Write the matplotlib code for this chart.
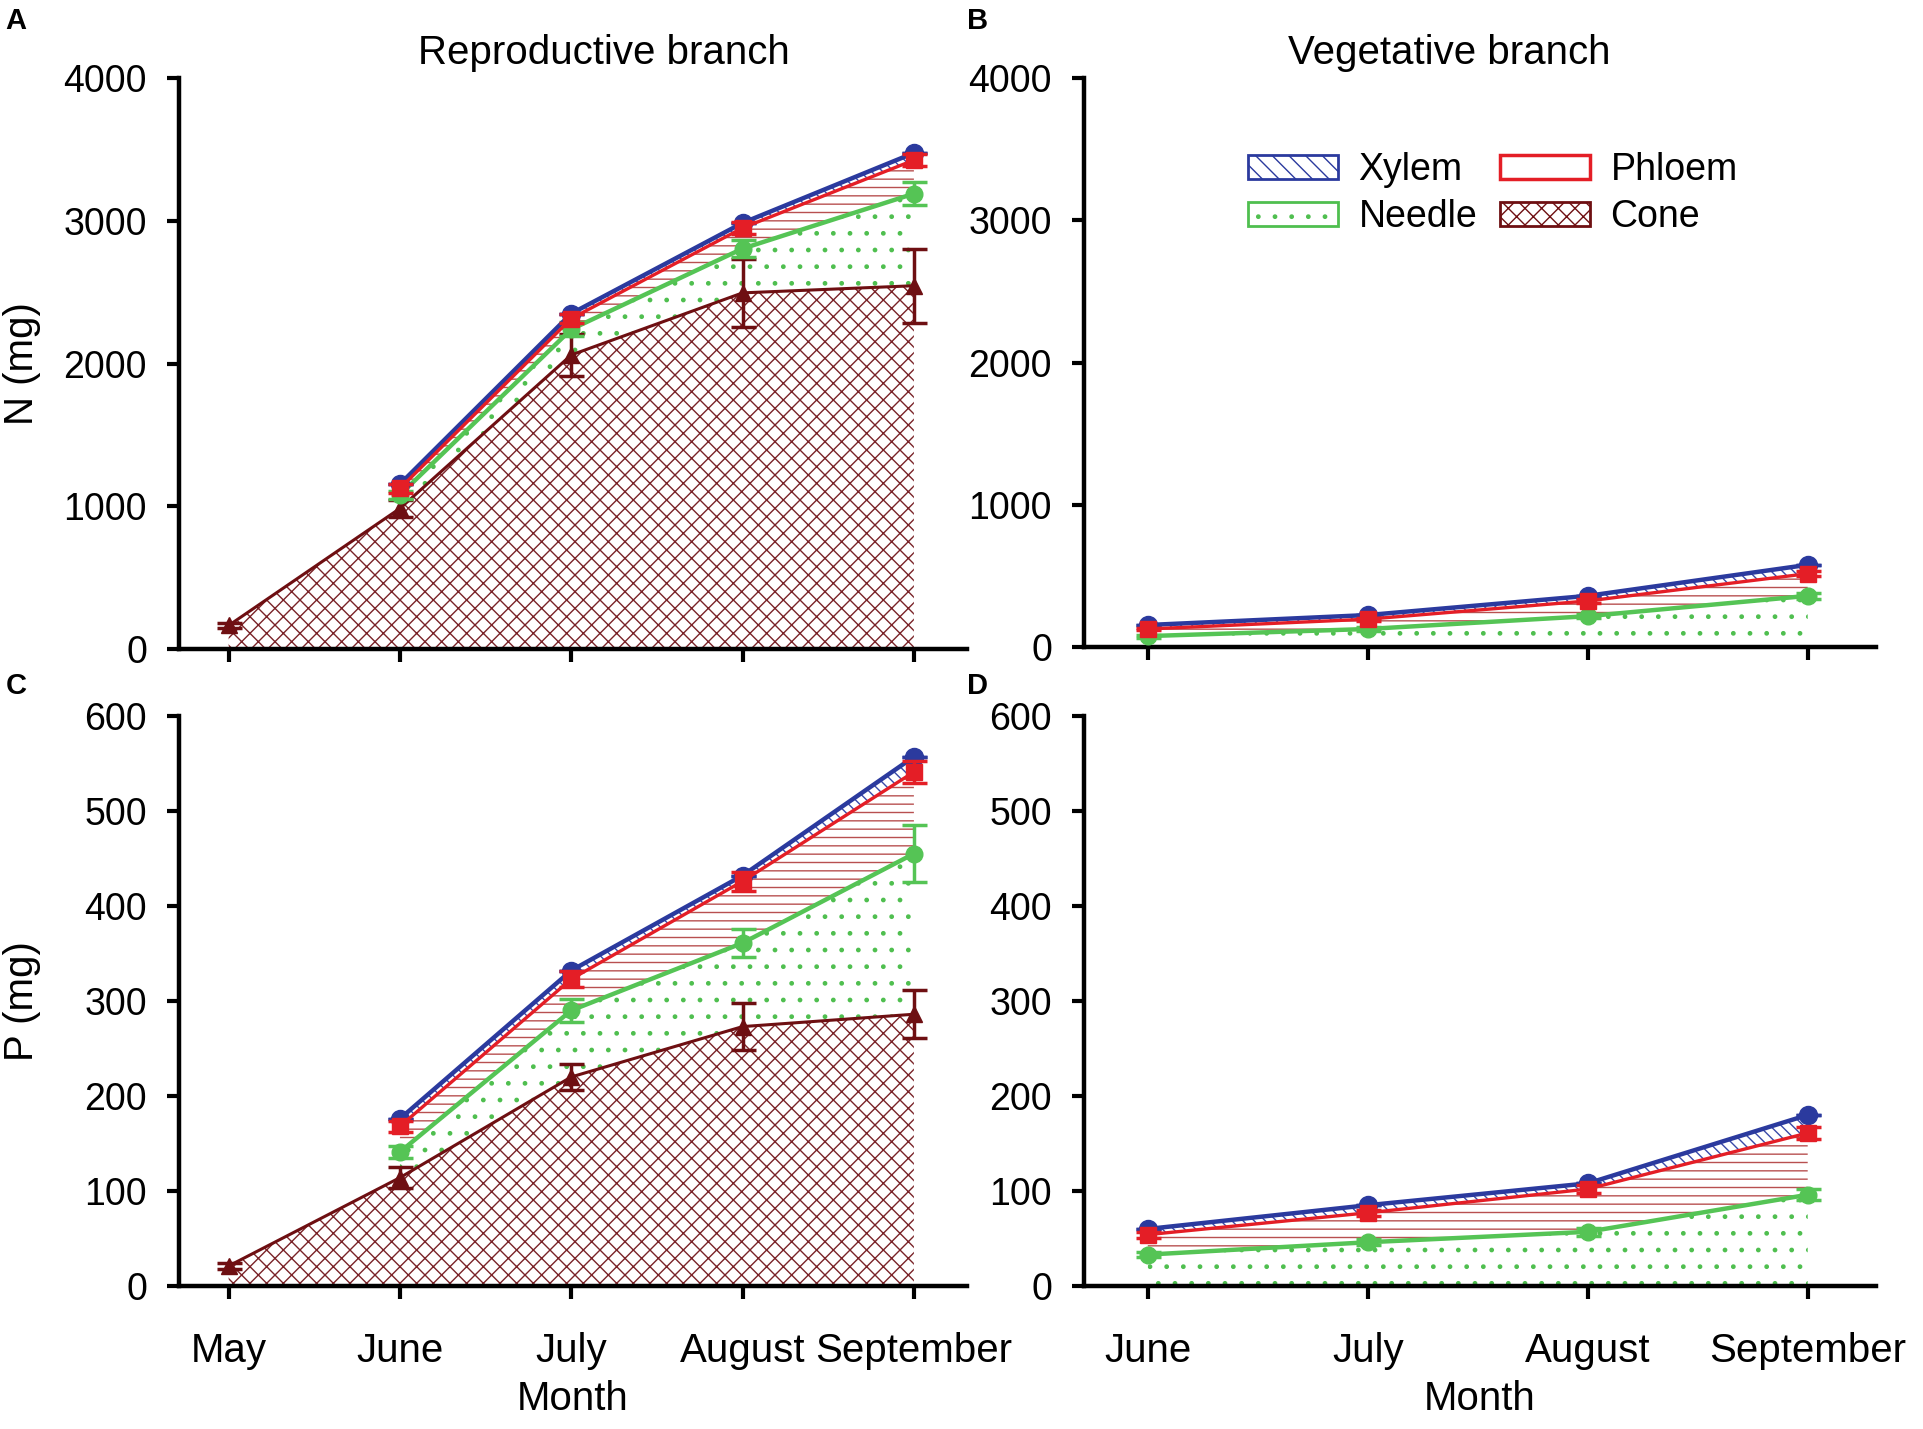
import numpy as np
import matplotlib
matplotlib.use("Agg")
import matplotlib.pyplot as plt
from matplotlib.patches import Patch

plt.rcParams['font.family'] = ['Liberation Sans', 'DejaVu Sans']
plt.rcParams['hatch.linewidth'] = 1.0

# months
rep_months = ["May", "June", "July", "August", "September"]
veg_months = ["June", "July", "August", "September"]

# A: N (mg), reproductive branch, amount per tissue (cone from May, others from June)
n_rep_cone = [165, 985, 2060, 2495, 2545]
n_rep_needle = [95, 180, 310, 645]
n_rep_phloem = [45, 75, 145, 235]
n_rep_xylem = [30, 35, 35, 50]
n_rep_cone_se = [20, 60, 150, 240, 260]
n_rep_needle_se = [30, 50, 60, 80]
n_rep_phloem_se = [30, 30, 40, 40]
n_rep_xylem_se = [0, 0, 0, 0]

# B: N (mg), vegetative branch
n_veg_needle = [77, 127, 217, 360]
n_veg_phloem = [50, 69, 107, 156]
n_veg_xylem = [28, 29, 36, 62]
n_veg_needle_se = [10, 12, 15, 20]
n_veg_phloem_se = [10, 10, 12, 20]
n_veg_xylem_se = [0, 0, 0, 0]

# C: P (mg), reproductive branch
p_rep_cone = [21, 114, 220, 273, 286]
p_rep_needle = [27, 70, 88, 169]
p_rep_phloem = [27, 33, 65, 86]
p_rep_xylem = [8, 9, 6, 16]
p_rep_cone_se = [3, 11, 14, 25, 25]
p_rep_needle_se = [6, 12, 15, 30]
p_rep_phloem_se = [6, 8, 10, 12]
p_rep_xylem_se = [0, 0, 0, 0]

# D: P (mg), vegetative branch
p_veg_needle = [33, 46, 57, 96]
p_veg_phloem = [21, 31, 45, 65]
p_veg_xylem = [6, 8, 6, 19]
p_veg_needle_se = [3, 3, 4, 6]
p_veg_phloem_se = [3, 3, 4, 6]
p_veg_xylem_se = [0, 0, 0, 0]

BLUE = '#2B3A9E'
RED = '#E41E26'
GREEN = '#55C455'
MAROON = '#6E0F12'
HATCH_BLUE = '#3A4AA8'
HATCH_RED = '#B85050'
HATCH_GREEN = '#4FBF4F'
HATCH_CONE = '#7A2328'


def draw_panel(ax, months, needle, phloem, xylem, errs, cone=None, cone_se=None):
    x = np.arange(len(months))
    start = len(months) - len(needle)
    xs = x[start:]
    if cone is not None:
        cone = np.asarray(cone, dtype=float)
        ax.fill_between(x, 0, cone, facecolor='none', edgecolor=HATCH_CONE,
                        hatch='xx', linewidth=0, zorder=1)
        base = cone[start:]
    else:
        base = np.zeros(len(xs))
    top_needle = base + np.asarray(needle, dtype=float)
    top_phloem = top_needle + np.asarray(phloem, dtype=float)
    top_xylem = top_phloem + np.asarray(xylem, dtype=float)

    ax.fill_between(xs, base, top_needle, facecolor='none', edgecolor=HATCH_GREEN,
                    hatch='.', linewidth=0, zorder=1)
    ax.fill_between(xs, top_needle, top_phloem, facecolor='none', edgecolor=HATCH_RED,
                    hatch='--', linewidth=0, zorder=1)
    ax.fill_between(xs, top_phloem, top_xylem, facecolor='none', edgecolor=HATCH_BLUE,
                    hatch='\\\\\\', linewidth=0, zorder=1)

    eb = dict(capsize=9, capthick=2.5, elinewidth=2.5)
    ne, pe, xe = errs
    if cone is not None:
        ax.errorbar(x, cone, yerr=cone_se, color=MAROON, marker='^', ms=12,
                    lw=2.2, zorder=3, **eb)
    ax.errorbar(xs, top_needle, yerr=ne, color=GREEN, marker='o', ms=12,
                lw=3.2, zorder=4, **eb)
    ax.errorbar(xs, top_xylem, yerr=xe, color=BLUE, marker='o', ms=13,
                lw=3.2, zorder=5, **eb)
    ax.errorbar(xs, top_phloem, yerr=pe, color=RED, marker='s', ms=11,
                lw=2.4, zorder=6, **eb)

    ax.set_xticks(x)
    ax.set_xlim(-0.29, len(months) - 1 + 0.31)
    for side in ['top', 'right']:
        ax.spines[side].set_visible(False)
    for side in ['left', 'bottom']:
        ax.spines[side].set_linewidth(3.2)
    ax.tick_params(axis='both', direction='out', length=9, width=3.0)
    ax.tick_params(axis='y', labelsize=27, pad=14)


fig = plt.figure(figsize=(19.24, 14.29), dpi=100)
axA = fig.add_axes([0.0930, 0.5458, 0.4096, 0.3996])
axB = fig.add_axes([0.5634, 0.5472, 0.4116, 0.3982])
axC = fig.add_axes([0.0930, 0.1001, 0.4096, 0.3989])
axD = fig.add_axes([0.5634, 0.1001, 0.4116, 0.3989])

draw_panel(axA, rep_months, n_rep_needle, n_rep_phloem, n_rep_xylem,
           (n_rep_needle_se, n_rep_phloem_se, n_rep_xylem_se),
           cone=n_rep_cone, cone_se=n_rep_cone_se)
draw_panel(axB, veg_months, n_veg_needle, n_veg_phloem, n_veg_xylem,
           (n_veg_needle_se, n_veg_phloem_se, n_veg_xylem_se))
draw_panel(axC, rep_months, p_rep_needle, p_rep_phloem, p_rep_xylem,
           (p_rep_needle_se, p_rep_phloem_se, p_rep_xylem_se),
           cone=p_rep_cone, cone_se=p_rep_cone_se)
draw_panel(axD, veg_months, p_veg_needle, p_veg_phloem, p_veg_xylem,
           (p_veg_needle_se, p_veg_phloem_se, p_veg_xylem_se))

for ax in (axA, axB):
    ax.set_ylim(0, 4000)
    ax.set_yticks([0, 1000, 2000, 3000, 4000])
    ax.set_xticklabels([])
for ax in (axC, axD):
    ax.set_ylim(0, 600)
    ax.set_yticks([0, 100, 200, 300, 400, 500, 600])
    ax.tick_params(axis='x', labelsize=29, pad=24)
    ax.set_xlabel("Month", fontsize=29, labelpad=7)
axC.set_xticklabels(rep_months)
axD.set_xticklabels(veg_months)

fig.text(0.314, 0.955, "Reproductive branch", fontsize=29, ha='center', va='baseline')
fig.text(0.753, 0.955, "Vegetative branch", fontsize=29, ha='center', va='baseline')
fig.text(0.0115, 0.7455, "N (mg)", fontsize=29, rotation=90, ha='center', va='center')
fig.text(0.0115, 0.2995, "P (mg)", fontsize=29, rotation=90, ha='center', va='center')

for lbl, xx, yy in [("A", 0.003, 0.995), ("B", 0.5026, 0.995),
                    ("C", 0.003, 0.530), ("D", 0.5026, 0.530)]:
    fig.text(xx, yy, lbl, fontsize=21, fontweight='bold', ha='left', va='top')

handles = [
    Patch(facecolor='white', edgecolor=BLUE, hatch='\\\\', linewidth=2, label='Xylem'),
    Patch(facecolor='white', edgecolor=HATCH_GREEN, hatch='.', linewidth=2, label='Needle'),
    Patch(facecolor='white', edgecolor=RED, linewidth=2.5, label='Phloem'),
    Patch(facecolor='white', edgecolor=MAROON, hatch='xx', linewidth=2, label='Cone'),
]
axB.legend(handles=handles, ncol=2, loc='upper left', bbox_to_anchor=(0.207, 0.87),
           frameon=False, fontsize=27, handlelength=2.4, handleheight=0.6,
           handletextpad=0.55, columnspacing=0.6, labelspacing=0.3,
           borderpad=0, borderaxespad=0)

fig.savefig("out.png", dpi=100)
